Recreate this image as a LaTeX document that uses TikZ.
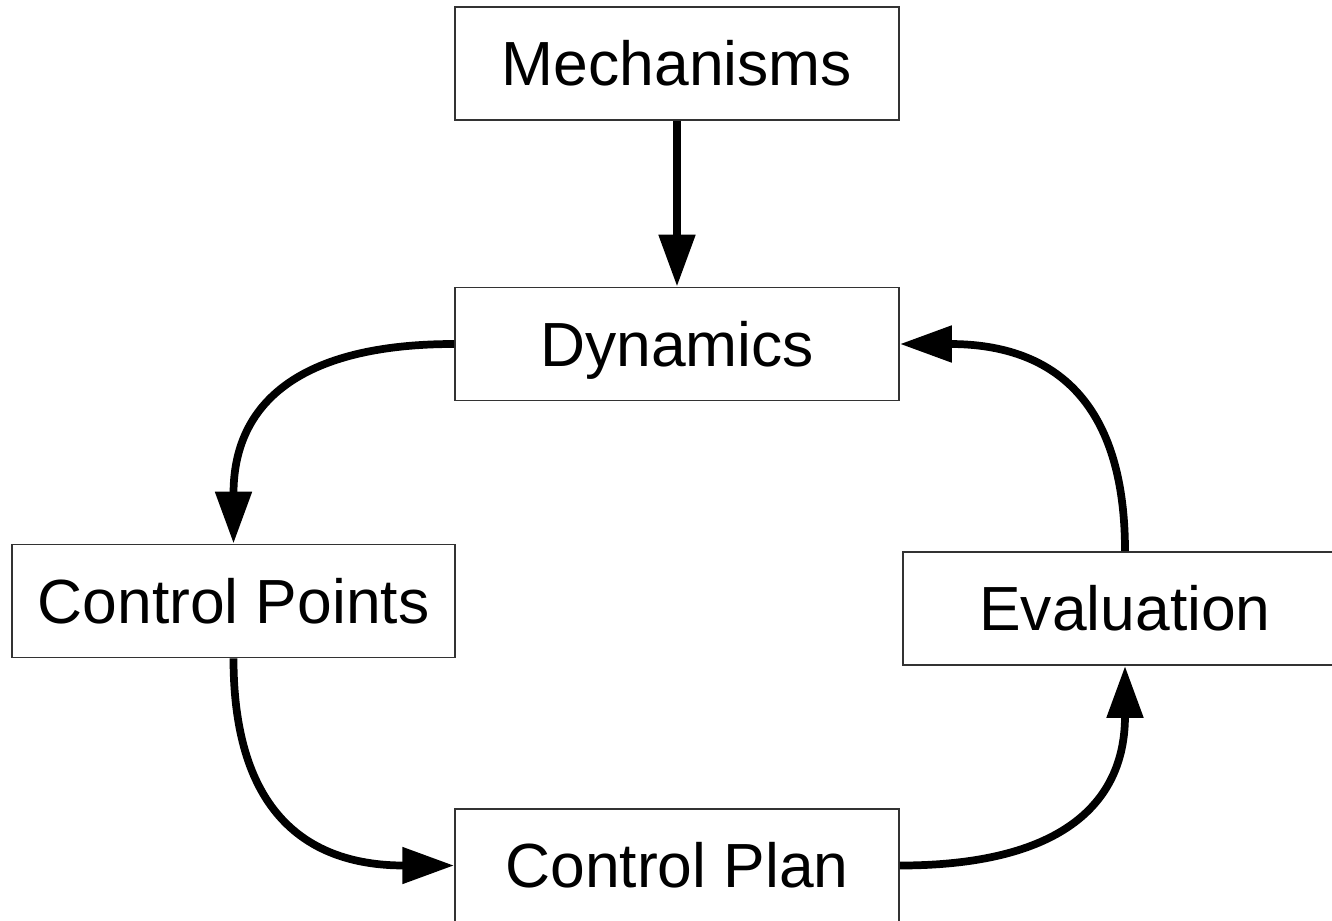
\documentclass[tikz,border=0pt]{standalone}
\usepackage{fontspec}
\setmainfont{Liberation Sans}
\usetikzlibrary{arrows.meta}
\begin{document}
\begin{tikzpicture}[x=0.02cm,y=-0.02cm,
  box/.style={draw=black!80,line width=1.1pt,fill=white,minimum width=8.88cm,minimum height=2.26cm,
    inner sep=0pt,text height=25.4pt,text depth=0pt,font=\fontsize{35.5}{40}\selectfont},
  arr/.style={line width=4.4pt,-{Triangle[length=29.5pt,width=20pt]}}]
\useasboundingbox (0,0) rectangle (1332,920);
\clip (0,0) rectangle (1332,920);
\node[box] (mech) at (677,63.5) {Mechanisms};
\node[box] (dyn) at (677,344) {Dynamics};
\node[box] (cp) at (233.5,601) {Control Points};
\node[box] (ev) at (1125,608.5) {Evaluation};
\node[box] (plan) at (677,865.5) {Control Plan};
\draw[arr] (mech.south) -- (dyn.north);
\draw[arr] (dyn.west) .. controls +(-155,0) and +(0,-140) .. (cp.north);
\draw[arr] (cp.south) .. controls +(0,145) and +(-155,0) .. (plan.west);
\draw[arr] (plan.east) .. controls +(158,0) and +(0,140) .. (ev.south);
\draw[arr] (ev.north) .. controls +(0,-145) and +(158,0) .. (dyn.east);
\end{tikzpicture}
\end{document}
